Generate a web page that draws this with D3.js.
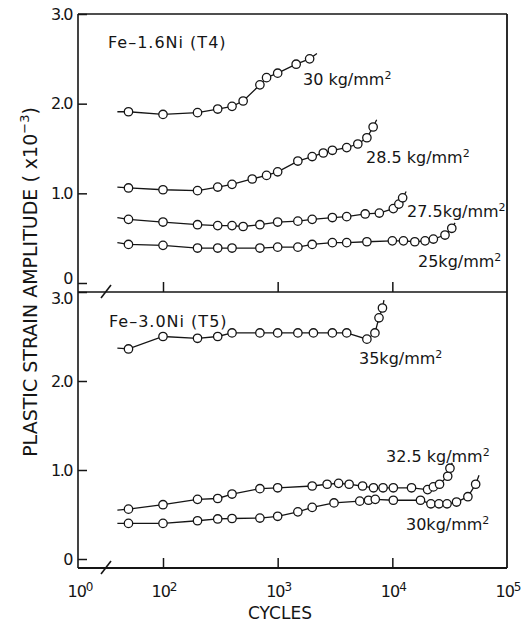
<!DOCTYPE html>
<html><head><meta charset="utf-8">
<script src="https://cdn.jsdelivr.net/npm/d3@7"></script>
<style>
html,body{margin:0;padding:0;background:#fff;}
svg{display:block;}
text{font-family:"DejaVu Sans",sans-serif;fill:#151515;}
</style></head><body>
<svg id="c" width="522" height="624"></svg>
<script>
// ---------- data ----------
const xTickValues = [1e2, 1e3, 1e4, 1e5];
const xTickExponents = ["2", "3", "4", "5"];
const xBreakLabelBase = "10";
const xBreakLabelExp = "0";
const yTickValues = [0, 1, 2, 3];
const yTickLabels = ["0", "1.0", "2.0", "3.0"];
const xTitle = "CYCLES";
const yTitleMain = "PLASTIC STRAIN AMPLITUDE ( x10";
const yTitleExp = "−3";
const yTitleEnd = ")";
const panelTitles = ["Fe–1.6Ni (T4)", "Fe–3.0Ni (T5)"];
const stressLabels = ["30 kg/mm", "28.5 kg/mm", "27.5kg/mm", "25kg/mm", "35kg/mm", "32.5 kg/mm", "30kg/mm"];

// Fe-1.6Ni (T4)
const t4s30Cycles = [50, 100, 200, 300, 400, 500, 700, 800, 1000, 1450, 1900];
const t4s30Strain = [1.91, 1.88, 1.90, 1.94, 1.97, 2.03, 2.21, 2.29, 2.34, 2.44, 2.50];
const t4s30Ends = [[40, 1.91], [2200, 2.56]];

const t4s285Cycles = [50, 100, 200, 300, 400, 600, 800, 1000, 1500, 2000, 2500, 3000, 4000, 5000, 6000, 6800];
const t4s285Strain = [1.06, 1.04, 1.03, 1.07, 1.10, 1.16, 1.20, 1.24, 1.36, 1.41, 1.45, 1.48, 1.51, 1.55, 1.62, 1.74];
const t4s285Ends = [[40, 1.07], [7300, 1.82]];

const t4s275Cycles = [50, 100, 200, 300, 400, 500, 700, 1000, 1500, 2000, 3000, 4000, 5800, 7700, 10200, 11400, 12300];
const t4s275Strain = [0.71, 0.68, 0.65, 0.64, 0.64, 0.63, 0.65, 0.68, 0.69, 0.71, 0.73, 0.74, 0.77, 0.78, 0.83, 0.88, 0.95];
const t4s275Ends = [[40, 0.73], [13200, 1.02]];

const t4s25Cycles = [50, 100, 200, 300, 400, 700, 1000, 1500, 2000, 3000, 4000, 6000, 10000, 12500, 15700, 19300, 22800, 28800, 33000];
const t4s25Strain = [0.43, 0.42, 0.39, 0.39, 0.39, 0.39, 0.40, 0.40, 0.43, 0.45, 0.45, 0.46, 0.47, 0.47, 0.46, 0.47, 0.49, 0.535, 0.61];
const t4s25Ends = [[40, 0.45], [35200, 0.67]];

// Fe-3.0Ni (T5)
const t5s35Cycles = [50, 100, 200, 300, 400, 700, 1000, 1500, 2050, 3000, 4000, 6000, 7050, 7650, 8200];
const t5s35Strain = [2.36, 2.50, 2.48, 2.50, 2.54, 2.54, 2.54, 2.54, 2.54, 2.54, 2.54, 2.47, 2.54, 2.71, 2.82];
const t5s35Ends = [[40, 2.37], [8450, 2.91]];

const t5s325Cycles = [50, 100, 200, 300, 400, 700, 1000, 2000, 2700, 3400, 4200, 5500, 6850, 8300, 10200, 14700, 20300, 22800, 25800, 30400, 31800];
const t5s325Strain = [0.56, 0.61, 0.67, 0.68, 0.73, 0.79, 0.80, 0.82, 0.84, 0.85, 0.84, 0.82, 0.80, 0.80, 0.80, 0.80, 0.78, 0.81, 0.84, 0.93, 1.02];
const t5s325Ends = [[40, 0.55], [33300, 1.08]];

const t5s30Cycles = [50, 100, 200, 300, 400, 700, 1000, 1500, 2000, 3100, 5200, 6200, 7100, 10200, 17600, 21700, 25500, 30000, 36300, 45600, 53300];
const t5s30Strain = [0.40, 0.40, 0.43, 0.45, 0.455, 0.46, 0.48, 0.53, 0.58, 0.63, 0.65, 0.66, 0.67, 0.66, 0.66, 0.62, 0.62, 0.62, 0.64, 0.70, 0.84];
const t5s30Ends = [[40, 0.40], [57000, 0.94]];

// ---------- build ----------
const svg = d3.select("#c");
const L = 78, R = 507, T = 14, MID = 292, B = 568;
const x = d3.scaleLog().domain([1e2, 1e5]).range([163, R]);
const yTop = d3.scaleLinear().domain([0, 3]).range([283, T]);
const yBot = d3.scaleLinear().domain([0, 3]).range([559, MID]);
const ink = "#151515";

const panels = [
  { y: yTop, title: panelTitles[0], titlePos: [108, 48], crowded: 0, shift: -5, series: [
    { c: t4s30Cycles, s: t4s30Strain, e: t4s30Ends, label: stressLabels[0], lp: [303, 85] },
    { c: t4s285Cycles, s: t4s285Strain, e: t4s285Ends, label: stressLabels[1], lp: [366, 163] },
    { c: t4s275Cycles, s: t4s275Strain, e: t4s275Ends, label: stressLabels[2], lp: [407, 217] },
    { c: t4s25Cycles, s: t4s25Strain, e: t4s25Ends, label: stressLabels[3], lp: [418, 267] } ] },
  { y: yBot, title: panelTitles[1], titlePos: [109, 327], crowded: 3, shift: 6, series: [
    { c: t5s35Cycles, s: t5s35Strain, e: t5s35Ends, label: stressLabels[4], lp: [359, 364] },
    { c: t5s325Cycles, s: t5s325Strain, e: t5s325Ends, label: stressLabels[5], lp: [386, 462] },
    { c: t5s30Cycles, s: t5s30Strain, e: t5s30Ends, label: stressLabels[6], lp: [406, 530] } ] }
];

// frame
const frame = svg.append("g").attr("stroke", ink).attr("fill", "none");
frame.append("line").attr("x1", L).attr("x2", L).attr("y1", T).attr("y2", B).attr("stroke-width", 1.6);
frame.append("line").attr("x1", R).attr("x2", R).attr("y1", T).attr("y2", B).attr("stroke-width", 1.8);
frame.append("line").attr("x1", L).attr("x2", R).attr("y1", T).attr("y2", T).attr("stroke-width", 1.4);
frame.append("line").attr("x1", L).attr("x2", R).attr("y1", MID).attr("y2", MID).attr("stroke-width", 1.6);
frame.append("line").attr("x1", L).attr("x2", R).attr("y1", B).attr("y2", B).attr("stroke-width", 1.8);

// y axes
panels.forEach(p => {
  const g = svg.append("g").attr("transform", `translate(${L},0)`)
    .call(d3.axisLeft(p.y).tickValues(yTickValues).tickSize(-9).tickPadding(6)
      .tickFormat((d, i) => yTickLabels[i]));
  g.select(".domain").remove();
  g.selectAll(".tick line").attr("stroke", ink).attr("stroke-width", 1.5);
  g.selectAll(".tick text").attr("font-size", 16).attr("letter-spacing", -1.5)
    .attr("font-family", "DejaVu Sans").attr("fill", ink)
    .attr("y", d => d === p.crowded ? p.shift : 0);
});

// x axes (divider and bottom)
[MID, B].forEach(yy => {
  const g = svg.append("g").attr("transform", `translate(0,${yy})`)
    .call(d3.axisBottom(x).tickValues(xTickValues.slice(0, 3)).tickSize(-10).tickFormat(""));
  g.select(".domain").remove();
  g.selectAll(".tick line").attr("stroke", ink).attr("stroke-width", 1.5);
  // axis break mark
  svg.append("line").attr("x1", 101).attr("y1", yy + 6).attr("x2", 111).attr("y2", yy - 7)
    .attr("stroke", ink).attr("stroke-width", 1.6);
});

// x tick labels
function powLabel(px, exp) {
  const t = svg.append("text").attr("x", px).attr("y", 597).attr("text-anchor", "middle")
    .attr("font-size", 16).attr("letter-spacing", -1);
  t.append("tspan").text(xBreakLabelBase);
  t.append("tspan").attr("dy", -6).attr("font-size", 12).text(exp);
}
powLabel(80, xBreakLabelExp);
xTickValues.forEach((v, i) => powLabel(x(v) + 1, xTickExponents[i]));

// axis titles
svg.append("text").attr("x", 280).attr("y", 619).attr("text-anchor", "middle")
  .attr("font-size", 17).text(xTitle);
const yt = svg.append("text").attr("transform", "translate(37,282) rotate(-90)")
  .attr("text-anchor", "middle").attr("font-size", 19);
yt.append("tspan").text(yTitleMain);
yt.append("tspan").attr("dy", -8).attr("font-size", 13).text(yTitleExp);
yt.append("tspan").attr("dy", 8).text(yTitleEnd);

// series
panels.forEach(p => {
  svg.append("text").attr("x", p.titlePos[0]).attr("y", p.titlePos[1])
    .attr("font-size", 16).attr("letter-spacing", 1).text(p.title);
  const line = d3.line().x(d => x(d[0])).y(d => p.y(d[1]));
  p.series.forEach(sr => {
    const pts = sr.c.map((c, i) => [c, sr.s[i]]);
    const full = [sr.e[0], ...pts, sr.e[1]];
    svg.append("path").attr("d", line(full)).attr("fill", "none")
      .attr("stroke", ink).attr("stroke-width", 1.3);
    svg.append("g").selectAll("circle").data(pts).join("circle")
      .attr("cx", d => x(d[0])).attr("cy", d => p.y(d[1])).attr("r", 4.2)
      .attr("fill", "#fff").attr("stroke", ink).attr("stroke-width", 1.3);
    const t = svg.append("text").attr("x", sr.lp[0]).attr("y", sr.lp[1]).attr("font-size", 16);
    t.append("tspan").text(sr.label);
    t.append("tspan").attr("dy", -6).attr("font-size", 11).text("2");
  });
});
</script>
</body></html>
